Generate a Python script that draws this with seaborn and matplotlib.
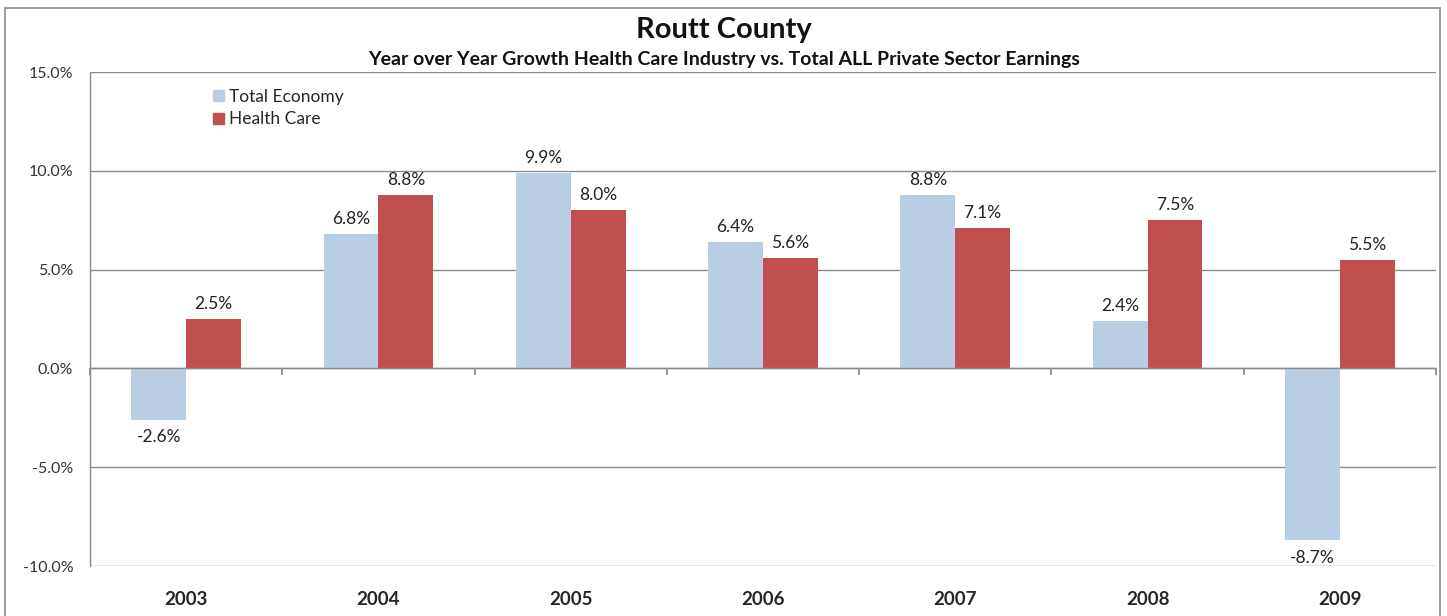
import matplotlib
matplotlib.use("Agg")
import matplotlib.pyplot as plt
import matplotlib.patches as mpatches
import seaborn as sns
import pandas as pd

years = ["2003", "2004", "2005", "2006", "2007", "2008", "2009"]
total_economy = [-2.6, 6.8, 9.9, 6.4, 8.8, 2.4, -8.7]
health_care = [2.5, 8.8, 8.0, 5.6, 7.1, 7.5, 5.5]
series_names = ["Total Economy", "Health Care"]
colors = ["#B9CDE5", "#C0504D"]
y_ticks = [-10, -5, 0, 5, 10, 15]

df = pd.DataFrame({
    "Year": years * 2,
    "Series": [series_names[0]] * len(years) + [series_names[1]] * len(years),
    "Growth": total_economy + health_care,
})

sns.set_theme(style="white")
plt.rcParams["font.family"] = ["Lato", "DejaVu Sans"]

fig = plt.figure(figsize=(14.47, 6.16), dpi=100)
ax = fig.add_axes([90 / 1447, 1 - 566 / 616, (1436 - 90) / 1447, (566 - 72) / 616])

sns.barplot(data=df, x="Year", y="Growth", hue="Series", order=years,
            hue_order=series_names, palette=colors, width=0.57,
            saturation=1, linewidth=0, ax=ax, legend=False)

ax.set_ylim(-10, 15)
ax.set_xlim(-0.5, len(years) - 0.5)
ax.set_yticks(y_ticks)
ax.set_yticklabels([f"{v:.1f}%" for v in y_ticks], fontsize=11.5, color="#333333")
ax.yaxis.grid(True, color="#8a8a8a", linewidth=1)
ax.set_axisbelow(True)
ax.tick_params(axis="y", length=4, color="#8a8a8a", direction="out", pad=8)
ax.tick_params(axis="x", length=0, pad=18, labelsize=13.5)
for lab in ax.get_xticklabels():
    lab.set_fontweight("bold")
ax.set_xlabel("")
ax.set_ylabel("")
for side in ["top", "right", "bottom"]:
    ax.spines[side].set_visible(False)
ax.spines["left"].set_color("#8a8a8a")
ax.spines["left"].set_linewidth(1)

# zero line with category separators
ax.axhline(0, color="#8a8a8a", linewidth=1, zorder=1)
sep = ax.secondary_xaxis(10 / 25)
sep.set_xticks([i - 0.5 for i in range(len(years) + 1)])
sep.set_xticklabels([])
sep.tick_params(axis="x", length=5, color="#8a8a8a", direction="out")
sep.spines["bottom"].set_visible(False)

# value labels
for container in ax.containers:
    for bar in container:
        h = bar.get_height()
        x = bar.get_x() + bar.get_width() / 2
        if h >= 0:
            ax.annotate(f"{h:.1f}%", (x, h), xytext=(0, 5), textcoords="offset points",
                        ha="center", va="bottom", fontsize=12.5, color="#222222")
        else:
            ax.annotate(f"{h:.1f}%", (x, h), xytext=(0, -7), textcoords="offset points",
                        ha="center", va="top", fontsize=12.5, color="#222222")

handles = [mpatches.Patch(color=c, label=n) for c, n in zip(colors, series_names)]
ax.legend(handles=handles, loc="upper left", bbox_to_anchor=(0.08, 0.997),
          frameon=False, fontsize=12.5, handlelength=0.6, handleheight=0.6,
          handletextpad=0.3, labelspacing=0.35)

fig.text(724 / 1447, 1 - 30 / 616, "Routt County", ha="center", va="center",
         fontsize=21, fontweight="bold", color="#111111")
fig.text(724 / 1447, 1 - 60 / 616,
         "Year over Year Growth Health Care Industry vs. Total ALL Private Sector Earnings",
         ha="center", va="center", fontsize=14, fontweight="bold", color="#111111")

# outer chart frame
fig.add_artist(mpatches.Rectangle((5 / 1447, -0.01), (1440 - 5) / 1447, 1 - 8 / 616 + 0.01,
                                  transform=fig.transFigure, fill=False,
                                  edgecolor="#8a8a8a", linewidth=1.2))

fig.savefig("out.png", dpi=100)
